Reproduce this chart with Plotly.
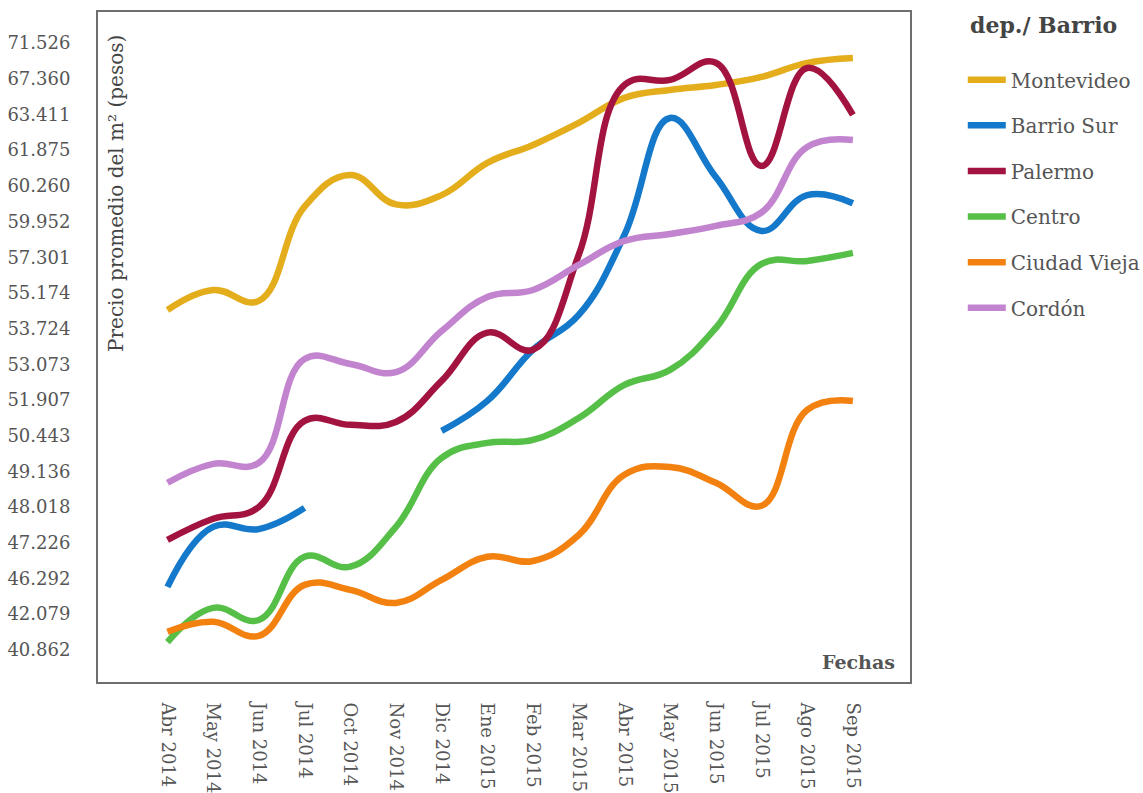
import numpy as np
import plotly.graph_objects as go

# Meses (eje categórico)
meses = ["Abr 2014", "May 2014", "Jun 2014", "Jul 2014", "Oct 2014", "Nov 2014",
         "Dic 2014", "Ene 2015", "Feb 2015", "Mar 2015", "Abr 2015", "May 2015",
         "Jun 2015", "Jul 2015", "Ago 2015", "Sep 2015"]

# Precio promedio del m² por barrio (pesos); None = sin dato
montevideo = [54.48, 55.35, 54.85, 60.08, 60.75, 60.10, 60.18, 61.30, 62.10, 63.05,
              65.24, 66.12, 66.67, 67.57, 69.21, 69.79]
barrio_sur = [45.30, 47.58, 47.53, 48.00, None, None, 50.64, 51.87, 53.34, 54.28,
              58.96, 63.26, 60.66, 59.25, 60.18, 60.11]
palermo = [47.29, 47.76, 48.02, 51.05, 50.89, 51.01, 52.53, 53.65, 53.34, 57.47,
           66.67, 67.23, 69.24, 61.16, 68.62, 63.39]
centro = [41.13, 42.82, 41.88, 46.86, 46.60, 47.58, 49.63, 50.18, 50.29, 51.17,
          52.40, 52.89, 53.75, 56.90, 57.08, 57.62]
ciudad_vieja = [41.48, 41.82, 41.34, 45.54, 44.95, 43.41, 46.13, 46.86, 46.75, 47.40,
                49.03, 49.30, 48.78, 48.06, 51.50, 51.87]
cordon = [48.78, 49.41, 49.45, 53.17, 53.08, 52.82, 53.68, 55.01, 55.35, 56.84,
          58.51, 59.03, 59.63, 60.03, 62.01, 62.31]

# Valores marcados en el eje vertical (escala ordinal: equiespaciados)
escala_precio = [40.862, 42.079, 46.292, 47.226, 48.018, 49.136, 50.443, 51.907,
                 53.073, 53.724, 55.174, 57.301, 59.952, 60.260, 61.875, 63.411,
                 67.360, 71.526]

series = [
    ("Montevideo", montevideo, "#E4AD1B"),
    ("Barrio Sur", barrio_sur, "#1479CB"),
    ("Palermo", palermo, "#A3133F"),
    ("Centro", centro, "#55BF47"),
    ("Ciudad Vieja", ciudad_vieja, "#F3810F"),
    ("Cordón", cordon, "#C283CF"),
]

posiciones = np.arange(len(escala_precio))


def a_escala(valores):
    """Lleva precios a la escala ordinal del eje (interpolación entre marcas)."""
    out = []
    for v in valores:
        out.append(None if v is None else float(np.interp(v, escala_precio, posiciones)))
    return out


FUENTE = "DejaVu Serif"

fig = go.Figure()
for nombre, valores, color in series:
    fig.add_trace(go.Scatter(
        x=meses,
        y=a_escala(valores),
        customdata=valores,
        name=nombre,
        legendgroup=nombre,
        mode="lines",
        line=dict(color=color, width=6.5, shape="spline", smoothing=1.2),
        connectgaps=False,
        hovertemplate="%{x}<br>%{customdata:.3f}<extra>" + nombre + "</extra>",
    ))

fig.update_layout(
    width=1143,
    height=793,
    margin=dict(l=98, r=233, t=12, b=111, pad=0, autoexpand=False),
    paper_bgcolor="white",
    plot_bgcolor="white",
    font=dict(family=FUENTE, color="#555555"),
    showlegend=True,
    legend=dict(
        font=dict(family=FUENTE, size=20, color="#555555"),
        x=1.065, xanchor="left",
        y=0.928, yanchor="top",
        tracegroupgap=16.6,
        itemwidth=38,
        bgcolor="rgba(0,0,0,0)",
    ),
    xaxis=dict(
        type="category",
        range=[-1.52, 16.25],
        automargin=False,
        showgrid=False,
        zeroline=False,
        showline=True,
        mirror=True,
        linecolor="#6e6e6e",
        linewidth=2,
        ticks="",
        tickangle=90,
        tickfont=dict(family=FUENTE, size=18, color="#555555"),
        ticklabelstandoff=15,
    ),
    yaxis=dict(
        range=[-0.9, 17.87],
        automargin=False,
        tickmode="array",
        tickvals=list(posiciones),
        ticktext=[f"{v:.3f}" for v in escala_precio],
        showgrid=False,
        zeroline=False,
        showline=True,
        mirror=True,
        linecolor="#6e6e6e",
        linewidth=2,
        ticks="",
        tickfont=dict(family=FUENTE, size=18, color="#555555"),
        ticklabelstandoff=22,
    ),
    annotations=[
        dict(text="dep./ Barrio",
             xref="paper", yref="paper", x=1.0714, y=0.981,
             xanchor="left", yanchor="middle", showarrow=False,
             font=dict(family=FUENTE, size=22, color="#444444", weight="bold")),
        dict(text="Precio promedio del m² (pesos)",
             xref="paper", yref="paper", x=0.023, y=0.969,
             xanchor="center", yanchor="top", textangle=-90, showarrow=False,
             font=dict(family=FUENTE, size=20, color="#444444")),
        dict(text="Fechas",
             xref="paper", yref="paper", x=0.984, y=0.03,
             xanchor="right", yanchor="middle", showarrow=False,
             font=dict(family=FUENTE, size=19, color="#555555", weight="bold")),
    ],
)

fig.write_html("out.html")
